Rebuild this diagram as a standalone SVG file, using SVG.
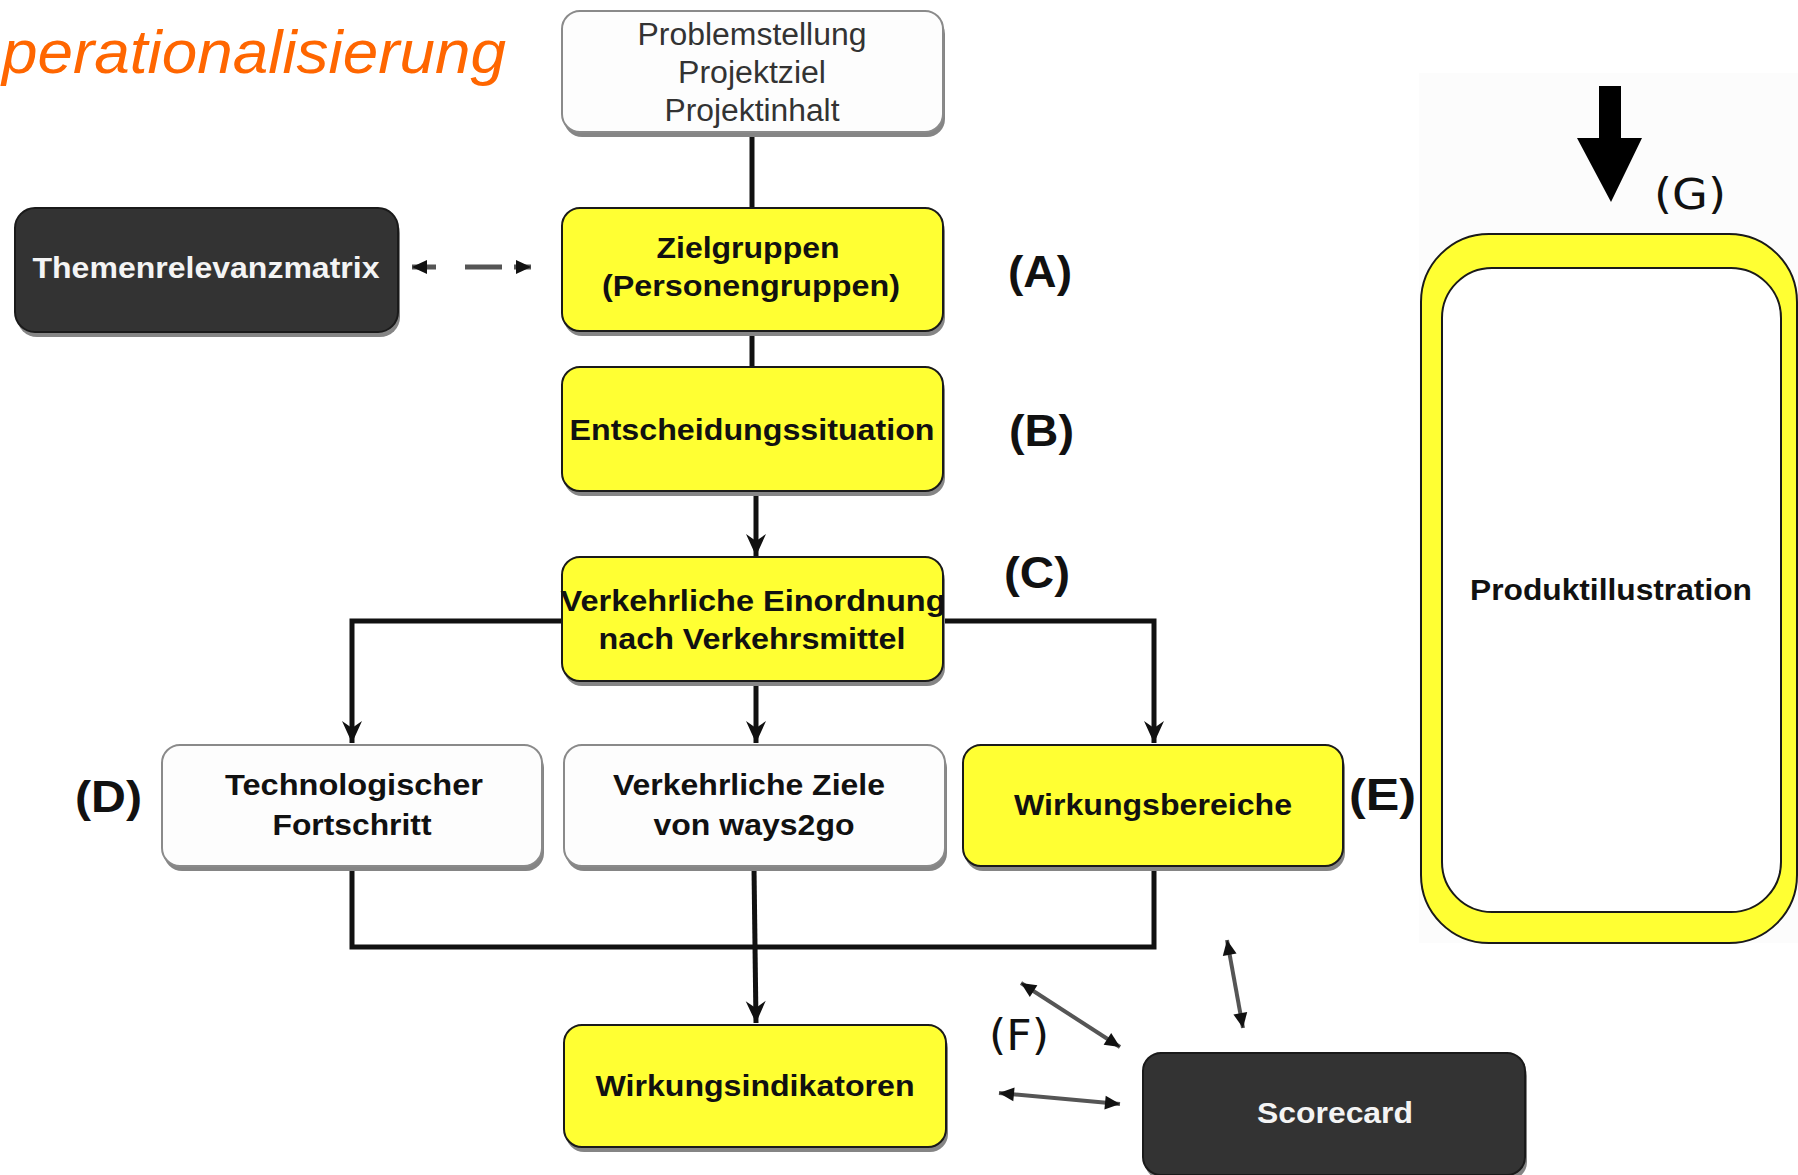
<svg xmlns="http://www.w3.org/2000/svg" width="1798" height="1175" viewBox="0 0 1798 1175">
<style>
.y{fill:#FFFF33;stroke:#1a1a1a;stroke-width:2}
.w{fill:#FDFDFD;stroke:#8a8a8a;stroke-width:2}
.d{fill:#333333;stroke:#1a1a1a;stroke-width:2}
.sh{fill:#858585}
.bt{font-family:"Liberation Sans",Arial,sans-serif;font-weight:bold;font-size:30px;text-anchor:middle;fill:#111}
.wt{font-family:"Liberation Sans",Arial,sans-serif;font-weight:bold;font-size:30px;text-anchor:middle;fill:#f4f4f4}
.rt{font-family:"Liberation Sans",Arial,sans-serif;font-size:31px;text-anchor:middle;fill:#333}
.lbl{font-family:"Liberation Sans",Arial,sans-serif;font-weight:bold;font-size:44px;fill:#111}
.lbl2{font-family:"DejaVu Sans",sans-serif;font-size:42px;fill:#111}
.con{fill:none;stroke:#111;stroke-width:5}
.dbl{fill:none;stroke:#555;stroke-width:4}
</style>
<defs>
<marker id="arr" viewBox="-2 -12 26 24" refX="22" refY="0" markerWidth="26" markerHeight="24" orient="auto" markerUnits="userSpaceOnUse">
<path d="M0,-10 L22,0 L0,10 L7,0 Z" fill="#111"/>
</marker>
<marker id="dh" viewBox="-1 -8 17 16" refX="15" refY="0" markerWidth="17" markerHeight="16" orient="auto-start-reverse" markerUnits="userSpaceOnUse">
<path d="M0,-7 L15,0 L0,7 Z" fill="#111"/>
</marker>
</defs>
<rect width="1798" height="1175" fill="#ffffff"/>
<rect x="1419" y="73" width="379" height="870" fill="#fcfcfc"/>
<text x="2" y="73" font-family="Liberation Sans,Arial,sans-serif" font-style="italic" font-size="62" fill="#FF6600" textLength="504" lengthAdjust="spacingAndGlyphs">perationalisierung</text>

<g id="connectors">
<line class="con" x1="752" y1="133" x2="752" y2="208"/>
<line class="con" x1="752" y1="332" x2="752" y2="367"/>
<line class="con" x1="756" y1="493" x2="756" y2="556" marker-end="url(#arr)"/>
<polyline class="con" points="562,621 352,621 352,743" marker-end="url(#arr)"/>
<polyline class="con" points="943,621 1154,621 1154,743" marker-end="url(#arr)"/>
<line class="con" x1="756" y1="683" x2="756" y2="743" marker-end="url(#arr)"/>
<polyline class="con" points="352,867 352,947 1154,947 1154,867"/>
<line class="con" x1="754" y1="868" x2="756" y2="1023" marker-end="url(#arr)"/>
<line x1="412" y1="267" x2="531" y2="267" stroke="#555" stroke-width="5" stroke-dasharray="24 29 37 12 20" marker-start="url(#dh)" marker-end="url(#dh)"/>
<line class="dbl" x1="1021" y1="983" x2="1120" y2="1047" marker-start="url(#dh)" marker-end="url(#dh)"/>
<line class="dbl" x1="999" y1="1093" x2="1120" y2="1104" marker-start="url(#dh)" marker-end="url(#dh)"/>
<line class="dbl" x1="1227" y1="940" x2="1243" y2="1028" marker-start="url(#dh)" marker-end="url(#dh)"/>
<path d="M1599,86 L1621,86 L1621,138 L1642,138 L1611,202 L1577,138 L1599,138 Z" fill="#000"/>
</g>

<g id="problemstellung">
<rect class="sh" x="564" y="16" width="381" height="121" rx="18"/>
<rect class="w" x="562" y="11" width="381" height="121" rx="18"/>
<text class="rt" x="752" y="45" textLength="229" lengthAdjust="spacingAndGlyphs">Problemstellung</text>
<text class="rt" x="752" y="83" textLength="148" lengthAdjust="spacingAndGlyphs">Projektziel</text>
<text class="rt" x="752" y="121" textLength="175" lengthAdjust="spacingAndGlyphs">Projektinhalt</text>
</g>

<g id="themenrelevanzmatrix">
<rect class="sh" x="17" y="213" width="383" height="124" rx="20"/>
<rect class="d" x="15" y="208" width="383" height="124" rx="20"/>
<text class="wt" x="206" y="278" textLength="347" lengthAdjust="spacingAndGlyphs">Themenrelevanzmatrix</text>
</g>

<g id="zielgruppen">
<rect class="sh" x="564" y="213" width="381" height="123" rx="18"/>
<rect class="y" x="562" y="208" width="381" height="123" rx="18"/>
<text class="bt" x="748" y="258" textLength="183" lengthAdjust="spacingAndGlyphs">Zielgruppen</text>
<text class="bt" x="751" y="296" textLength="298" lengthAdjust="spacingAndGlyphs">(Personengruppen)</text>
</g>

<g id="entscheidungssituation">
<rect class="sh" x="564" y="372" width="381" height="124" rx="18"/>
<rect class="y" x="562" y="367" width="381" height="124" rx="18"/>
<text class="bt" x="752" y="440" textLength="365" lengthAdjust="spacingAndGlyphs">Entscheidungssituation</text>
</g>

<g id="einordnung">
<rect class="sh" x="564" y="562" width="381" height="124" rx="18"/>
<rect class="y" x="562" y="557" width="381" height="124" rx="18"/>
<text class="bt" x="753" y="611" textLength="385" lengthAdjust="spacingAndGlyphs">Verkehrliche Einordnung</text>
<text class="bt" x="752" y="649" textLength="307" lengthAdjust="spacingAndGlyphs">nach Verkehrsmittel</text>
</g>

<g id="technologischer">
<rect class="sh" x="164" y="750" width="380" height="121" rx="18"/>
<rect class="w" x="162" y="745" width="380" height="121" rx="18"/>
<text class="bt" x="354" y="795" textLength="258" lengthAdjust="spacingAndGlyphs">Technologischer</text>
<text class="bt" x="352" y="835" textLength="159" lengthAdjust="spacingAndGlyphs">Fortschritt</text>
</g>

<g id="ziele">
<rect class="sh" x="566" y="750" width="381" height="121" rx="18"/>
<rect class="w" x="564" y="745" width="381" height="121" rx="18"/>
<text class="bt" x="749" y="795" textLength="272" lengthAdjust="spacingAndGlyphs">Verkehrliche Ziele</text>
<text class="bt" x="754" y="835" textLength="201" lengthAdjust="spacingAndGlyphs">von ways2go</text>
</g>

<g id="wirkungsbereiche">
<rect class="sh" x="965" y="750" width="380" height="121" rx="18"/>
<rect class="y" x="963" y="745" width="380" height="121" rx="18"/>
<text class="bt" x="1153" y="815" textLength="278" lengthAdjust="spacingAndGlyphs">Wirkungsbereiche</text>
</g>

<g id="wirkungsindikatoren">
<rect class="sh" x="566" y="1030" width="382" height="122" rx="18"/>
<rect class="y" x="564" y="1025" width="382" height="122" rx="18"/>
<text class="bt" x="755" y="1096" textLength="319" lengthAdjust="spacingAndGlyphs">Wirkungsindikatoren</text>
</g>

<g id="scorecard">
<rect class="sh" x="1145" y="1058" width="382" height="122" rx="18"/>
<rect class="d" x="1143" y="1053" width="382" height="122" rx="18"/>
<text class="wt" x="1335" y="1123" textLength="156" lengthAdjust="spacingAndGlyphs">Scorecard</text>
</g>

<g id="produktillustration">
<rect x="1421" y="234" width="376" height="709" rx="68" fill="#FFFF33" stroke="#1a1a1a" stroke-width="2"/>
<rect x="1442" y="268" width="339" height="644" rx="50" fill="#FFFFFF" stroke="#1a1a1a" stroke-width="2"/>
<text class="bt" x="1611" y="600" textLength="282" lengthAdjust="spacingAndGlyphs">Produktillustration</text>
</g>

<g id="labels">
<text class="lbl" x="1008" y="287" textLength="64" lengthAdjust="spacingAndGlyphs">(A)</text>
<text class="lbl" x="1009" y="446" textLength="65" lengthAdjust="spacingAndGlyphs">(B)</text>
<text class="lbl" x="1004" y="588" textLength="66" lengthAdjust="spacingAndGlyphs">(C)</text>
<text class="lbl" x="75" y="812" textLength="67" lengthAdjust="spacingAndGlyphs">(D)</text>
<text class="lbl" x="1349" y="810" textLength="67" lengthAdjust="spacingAndGlyphs">(E)</text>
<text class="lbl2" x="989" y="1050" textLength="60" lengthAdjust="spacingAndGlyphs">(F)</text>
<text class="lbl2" x="1654" y="209" textLength="72" lengthAdjust="spacingAndGlyphs">(G)</text>
</g>
</svg>
